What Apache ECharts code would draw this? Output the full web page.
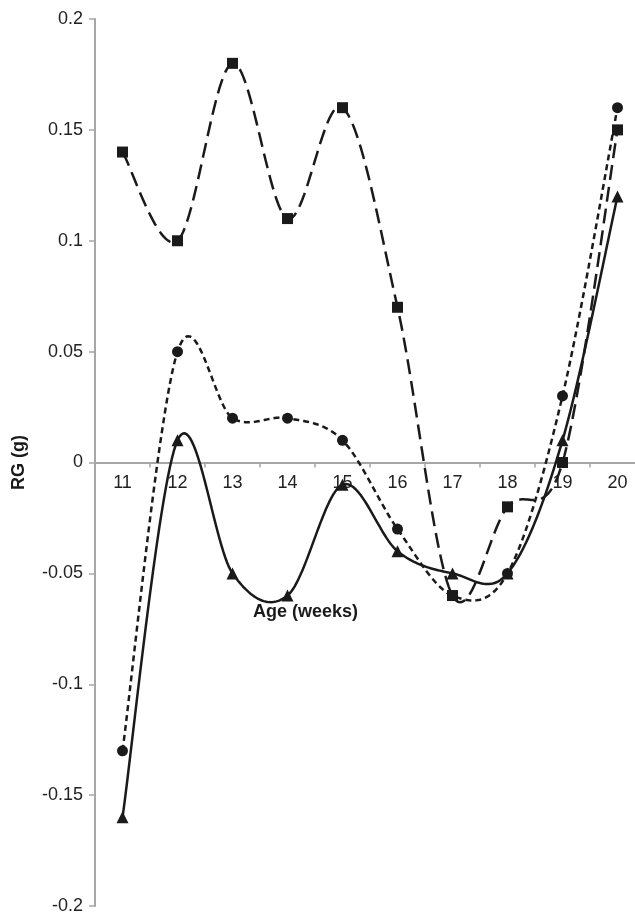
<!DOCTYPE html>
<html><head><meta charset="utf-8">
<script src="https://cdn.jsdelivr.net/npm/echarts@6/dist/echarts.min.js"></script>
<style>html,body{margin:0;padding:0;background:#fff}#c{width:635px;height:918px}</style>
</head><body><div id="c"></div>
<script>
const categories = ['11','12','13','14','15','16','17','18','19','20'];
const squares   = [0.14, 0.10, 0.18, 0.11, 0.16, 0.07, -0.06, -0.02, 0.00, 0.15];
const circles   = [-0.13, 0.05, 0.02, 0.02, 0.01, -0.03, -0.06, -0.05, 0.03, 0.16];
const triangles = [-0.16, 0.01, -0.05, -0.06, -0.01, -0.04, -0.05, -0.05, 0.01, 0.12];
const yMin = -0.2, yMax = 0.2, yInterval = 0.05;

const chart = echarts.init(document.getElementById('c'), null, {renderer:'canvas'});
const font = 'Liberation Sans, Arial, sans-serif';
const lineCol = '#1a1a1a';
const gridTop = 19, gridBottom = 12, H = 918;

// Excel-style smoothed line: Catmull-Rom through the data points, positioned by the axes
function curveSeries(values, dash) {
  return {
    type:'custom', coordinateSystem:'cartesian2d', z:3, silent:true,
    data: values.map((v,i)=>[i, v]), encode:{x:0, y:1},
    renderItem(params, api) {
      if (params.dataIndex !== 0) return null;
      const p = values.map((v,i)=>api.coord([i, v]));
      const n = p.length, out = [p[0]];
      for (let i = 0; i < n-1; i++) {
        const p0 = p[Math.max(i-1,0)], p1 = p[i], p2 = p[i+1], p3 = p[Math.min(i+2,n-1)];
        const c1 = [p1[0] + (p2[0]-p0[0])/6, p1[1] + (p2[1]-p0[1])/6];
        const c2 = [p2[0] - (p3[0]-p1[0])/6, p2[1] - (p3[1]-p1[1])/6];
        const steps = 30;
        for (let s = 1; s <= steps; s++) {
          const t = s/steps, u = 1-t;
          out.push([
            u*u*u*p1[0] + 3*u*u*t*c1[0] + 3*u*t*t*c2[0] + t*t*t*p2[0],
            u*u*u*p1[1] + 3*u*u*t*c1[1] + 3*u*t*t*c2[1] + t*t*t*p2[1]
          ]);
        }
      }
      return {type:'polyline', shape:{points: out},
        style:{stroke: lineCol, lineWidth: 2.5, fill: null, lineDash: dash}};
    }
  };
}
function markerSeries(values, symbol, size) {
  return {type:'scatter', data: values, symbol, symbolSize: size, z:5, silent:true,
    itemStyle:{color: lineCol, opacity: 1}};
}

chart.setOption({
  animation:false,
  backgroundColor:'#fff',
  title:{text:'Age (weeks)', left:248, top:598,
    textStyle:{fontFamily:font, fontSize:18, fontWeight:'bold', color:'#1a1a1a'}},
  grid:{left:95, right:-10, top:gridTop, bottom:gridBottom, containLabel:false, outerBoundsMode:'none'},
  xAxis:{type:'category', data:categories, boundaryGap:true,
    offset: -((H - gridTop - gridBottom)/2),
    axisLine:{onZero:false, lineStyle:{color:'#a6a6a6', width:2}},
    axisTick:{show:true, length:5, lineStyle:{color:'#a6a6a6', width:1.5}},
    axisLabel:{fontFamily:font, fontSize:18, color:'#222', margin:12},
    splitLine:{show:false}},
  yAxis:{type:'value', min:yMin, max:yMax, interval:yInterval,
    name:'RG (g)', nameLocation:'middle', nameGap:67, nameRotate:90,
    nameTextStyle:{fontFamily:font, fontSize:18, fontWeight:'bold', color:'#1a1a1a'},
    axisLine:{show:true, lineStyle:{color:'#a6a6a6', width:2}},
    axisTick:{show:true, length:6, lineStyle:{color:'#a6a6a6', width:1.5}},
    axisLabel:{fontFamily:font, fontSize:18, color:'#222', margin:12,
      formatter: v => String(Math.round(v*100)/100)},
    splitLine:{show:false}},
  series:[
    curveSeries(squares, [15,7]),
    curveSeries(circles, [6,4]),
    curveSeries(triangles, null),
    markerSeries(squares, 'rect', 11),
    markerSeries(circles, 'circle', 11),
    markerSeries(triangles, 'triangle', 12)
  ]
});
</script></body></html>
